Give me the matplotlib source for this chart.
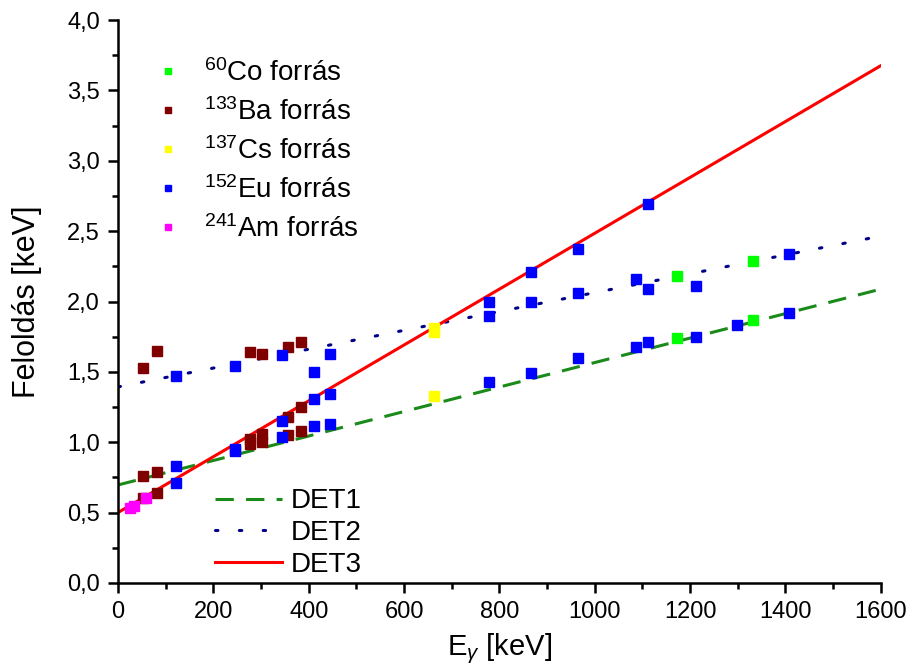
import matplotlib
matplotlib.use('Agg')
import matplotlib.pyplot as plt
from matplotlib.lines import Line2D
from matplotlib.ticker import MultipleLocator, FuncFormatter
import numpy as np

plt.rcParams['font.family'] = ['Liberation Sans', 'DejaVu Sans']
plt.rcParams['mathtext.fontset'] = 'custom'
plt.rcParams['mathtext.rm'] = 'Liberation Sans'
plt.rcParams['mathtext.it'] = 'Liberation Sans:italic'

# source energies [keV] and measured resolution [keV] per detector
co_e = [1173, 1332]
co_det1 = [1.74, 1.87]
co_det2 = [2.18, 2.29]

ba_e = [53, 81, 276, 303, 356, 384]
ba_det1 = [0.76, 0.79, 0.99, 1.00, 1.05, 1.08]
ba_det2 = [1.53, 1.65, 1.64, 1.63, 1.68, 1.71]
ba_det3 = [0.60, 0.64, 1.02, 1.06, 1.18, 1.25]

cs_e = [662]
cs_det1 = [1.33]
cs_det2 = [1.81]
cs_det3 = [1.78]

eu_det1_e = [122, 245, 344, 411, 444, 779, 867, 964, 1086, 1112, 1213, 1299, 1408]
eu_det1 = [0.83, 0.94, 1.04, 1.115, 1.13, 1.43, 1.49, 1.60, 1.68, 1.71, 1.75, 1.83, 1.92]
eu_det2_e = [122, 245, 344, 411, 444, 779, 867, 964, 1086, 1112, 1213, 1408]
eu_det2 = [1.47, 1.54, 1.62, 1.50, 1.63, 1.90, 2.00, 2.06, 2.16, 2.09, 2.11, 2.34]
eu_det3_e = [122, 245, 344, 411, 444, 779, 867, 964, 1112]
eu_det3 = [0.71, 0.95, 1.15, 1.31, 1.34, 2.00, 2.21, 2.37, 2.69]
eu_det3_err = [0.01, 0.01, 0.01, 0.01, 0.01, 0.01, 0.03, 0.01, 0.01]

am_e = [26, 33, 59.5]
am_det3 = [0.535, 0.545, 0.60]

# linear fits: intercept, slope
fit_det1 = (0.696, 0.00087)
fit_det2 = (1.393, 0.00067)
fit_det3 = (0.50, 0.001985)

c_co = '#00ff00'
c_ba = '#800000'
c_cs = '#ffff00'
c_eu = '#0000ff'
c_am = '#ff00ff'

fig = plt.figure(figsize=(9.08, 6.7), dpi=100)
ax = fig.add_axes([0.130, 0.130, 0.840, 0.840])

xfit = np.array([0, 1600])
l1, = ax.plot(xfit, fit_det1[0] + fit_det1[1] * xfit, ls=(0, (6, 4)),
              color='#1a8a1a', lw=2.2, zorder=1)
l2, = ax.plot(xfit, fit_det2[0] + fit_det2[1] * xfit, ls=(0, (0.8, 7)),
              color='#00008b', lw=2.2, dash_capstyle='round', zorder=1)
l3, = ax.plot(xfit, fit_det3[0] + fit_det3[1] * xfit, ls='-',
              color='#ff0000', lw=2.2, zorder=1)


def pts(x, y, c, err=0.01):
    ax.errorbar(x, y, yerr=err, xerr=6, fmt='s', ms=7, color=c, mec=c,
                ecolor=c, elinewidth=1, capsize=3.5, zorder=3)


pts(co_e, co_det1, c_co)
pts(co_e, co_det2, c_co)
pts(ba_e, ba_det1, c_ba)
pts(ba_e, ba_det2, c_ba)
pts(ba_e, ba_det3, c_ba)
pts(cs_e, cs_det1, c_cs)
pts(cs_e, cs_det2, c_cs)
pts(cs_e, cs_det3, c_cs)
pts(eu_det1_e, eu_det1, c_eu)
pts(eu_det2_e, eu_det2, c_eu)
pts(eu_det3_e, eu_det3, c_eu, eu_det3_err)
pts(am_e, am_det3, c_am)

ax.set_xlim(0, 1600)
ax.set_ylim(0, 4.0)
ax.xaxis.set_major_locator(MultipleLocator(200))
ax.xaxis.set_minor_locator(MultipleLocator(100))
ax.yaxis.set_major_locator(MultipleLocator(0.5))
ax.yaxis.set_minor_locator(MultipleLocator(0.25))
ax.yaxis.set_major_formatter(FuncFormatter(lambda v, p: ('%.1f' % v).replace('.', ',')))
ax.tick_params(which='major', direction='out', length=7, width=1.8, labelsize=17, pad=6)
ax.tick_params(which='minor', direction='out', length=4, width=1.8)
for s in ['top', 'right']:
    ax.spines[s].set_visible(False)
for s in ['left', 'bottom']:
    ax.spines[s].set_linewidth(1.8)

ax.set_xlabel(r'E$_{\gamma}$ [keV]', fontsize=21, labelpad=6)
ax.set_ylabel('Feloldás [keV]', fontsize=22, labelpad=18)

src_handles = [Line2D([], [], ls='none', marker='s', ms=5, color=c)
               for c in [c_co, c_ba, c_cs, c_eu, c_am]]
src_labels = [r'$^{60}$Co forrás', r'$^{133}$Ba forrás', r'$^{137}$Cs forrás',
              r'$^{152}$Eu forrás', r'$^{241}$Am forrás']
leg1 = ax.legend(src_handles, src_labels, loc='upper left',
                 bbox_to_anchor=(0.015, 0.975), frameon=False, fontsize=20,
                 handlelength=1.0, handletextpad=0.8, labelspacing=0.4)
ax.add_artist(leg1)
ax.legend([l1, l2, l3], ['DET1', 'DET2', 'DET3'], loc='lower left',
          bbox_to_anchor=(0.095, -0.035), frameon=False, fontsize=20,
          handlelength=2.4, handletextpad=0.3, labelspacing=0.2)

fig.savefig('out.png', dpi=100)
